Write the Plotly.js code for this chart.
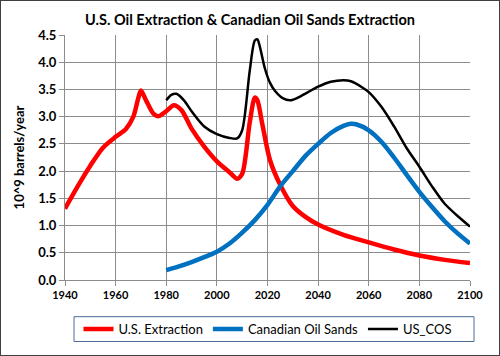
<!DOCTYPE html>
<html><head><meta charset="utf-8">
<script src="https://cdn.plot.ly/plotly-3.0.1.min.js"></script>
<style>
html,body{margin:0;padding:0;background:#fff;}
#wrap{position:relative;width:500px;height:356px;}
#chart{width:500px;height:356px;}
#frame{position:absolute;left:0;top:0;width:498px;height:354px;border:1px solid #404040;pointer-events:none;}
</style></head>
<body>
<div id="wrap"><div id="chart"></div><div id="frame"></div></div>
<script>
const usYears = [1940,1945,1950,1955,1960,1964,1967,1969,1970,1972,1975,1977,1980,1983,1986,1990,1995,2000,2005,2008,2010,2013,2015,2016,2018,2021,2025,2030,2035,2040,2050,2060,2070,2080,2090,2100];
const usValues = [1.31,1.72,2.10,2.43,2.63,2.77,3.00,3.35,3.48,3.30,3.05,3.01,3.10,3.21,3.12,2.78,2.45,2.18,1.98,1.86,1.95,2.90,3.35,3.30,2.85,2.20,1.75,1.36,1.16,1.02,0.83,0.69,0.56,0.45,0.37,0.31];

const cosYears = [1980,1985,1990,1995,2000,2005,2010,2015,2020,2025,2030,2035,2040,2045,2050,2053,2055,2060,2065,2070,2075,2080,2085,2090,2095,2100];
const cosValues = [0.18,0.25,0.33,0.42,0.52,0.67,0.87,1.10,1.38,1.72,2.00,2.28,2.50,2.70,2.83,2.87,2.86,2.75,2.54,2.25,1.93,1.62,1.34,1.08,0.86,0.67];

const sumYears = [1980,1982,1984,1987,1990,1995,2000,2005,2008,2010,2013,2015,2016,2017,2019,2021,2023,2026,2029,2032,2036,2040,2045,2050,2053,2057,2060,2065,2070,2075,2080,2085,2090,2095,2100];
const sumValues = [3.30,3.40,3.42,3.30,3.10,2.82,2.68,2.61,2.60,2.75,3.85,4.40,4.42,4.28,3.88,3.62,3.47,3.34,3.30,3.35,3.45,3.55,3.64,3.67,3.65,3.55,3.45,3.18,2.82,2.42,2.08,1.72,1.40,1.18,0.98];

const xTicks = [1940,1960,1980,2000,2020,2040,2060,2080,2100];
const yTicks = [0,0.5,1,1.5,2,2.5,3,3.5,4,4.5];
const yTickText = ['0.0','0.5','1.0','1.5','2.0','2.5','3.0','3.5','4.0','4.5'];

const FONT = 'Lato, "Open Sans", sans-serif';
const traces = [
  {x: usYears, y: usValues, name: 'U.S. Extraction', mode: 'lines', line: {color: '#FF0000', width: 4.5, shape: 'spline', smoothing: 0.8}},
  {x: cosYears, y: cosValues, name: 'Canadian Oil Sands', mode: 'lines', line: {color: '#0070C0', width: 4.5, shape: 'spline', smoothing: 0.8}},
  {x: sumYears, y: sumValues, name: 'US_COS', mode: 'lines', line: {color: '#000000', width: 2.5, shape: 'spline', smoothing: 0.8}}
];
const L = 65, R = 470, T = 35, B = 282;
const pw = R - L, ph = B - T;
const layout = {
  width: 500, height: 356,
  margin: {l: L, r: 500 - R, t: T, b: 356 - B, pad: 0},
  paper_bgcolor: '#fff', plot_bgcolor: '#fff',
  font: {family: FONT, color: '#000'},
  title: {text: 'U.S. Oil Extraction & Canadian Oil Sands Extraction', font: {family: FONT, size: 14.5, weight: 'bold', color: '#000'}, x: 0.5, xanchor: 'center', xref: 'container', y: 1 - 20/356, yanchor: 'middle', yref: 'container'},
  xaxis: {range: [1940, 2100], tickvals: xTicks, ticktext: xTicks.map(String), showgrid: true, gridcolor: '#8c8c8c', gridwidth: 1, showline: true, linecolor: '#8c8c8c', ticks: 'outside', ticklen: 5, tickcolor: '#8c8c8c', tickfont: {family: FONT, size: 11, weight: 'bold'}, zeroline: false, fixedrange: true},
  yaxis: {range: [0, 4.5], tickvals: yTicks, ticktext: yTickText, showgrid: true, gridcolor: '#8c8c8c', gridwidth: 1, showline: true, linecolor: '#8c8c8c', ticks: 'outside', ticklen: 5, tickcolor: '#8c8c8c', tickfont: {family: FONT, size: 13, weight: 'bold'}, zeroline: false,
    title: {text: '10^9 barrels/year', font: {family: FONT, size: 13, weight: 'bold'}, standoff: 10}},
  showlegend: true,
  legend: {orientation: 'h', x: 0.5, xanchor: 'center', y: (B - 331.5) / ph, yref: 'paper', yanchor: 'middle', font: {family: FONT, size: 13}, bgcolor: 'rgba(0,0,0,0)', borderwidth: 0, itemwidth: 30, tracegroupgap: 0},
  shapes: [{type: 'rect', xref: 'paper', yref: 'paper', x0: (74 - L)/pw, x1: (474 - L)/pw, y0: (B - 344)/ph, y1: (B - 319)/ph, line: {color: '#4a6a96', width: 1}, fillcolor: 'rgba(0,0,0,0)', layer: 'above'}]
};
Plotly.newPlot('chart', traces, layout, {displayModeBar: false, staticPlot: true});
</script>
</body></html>
